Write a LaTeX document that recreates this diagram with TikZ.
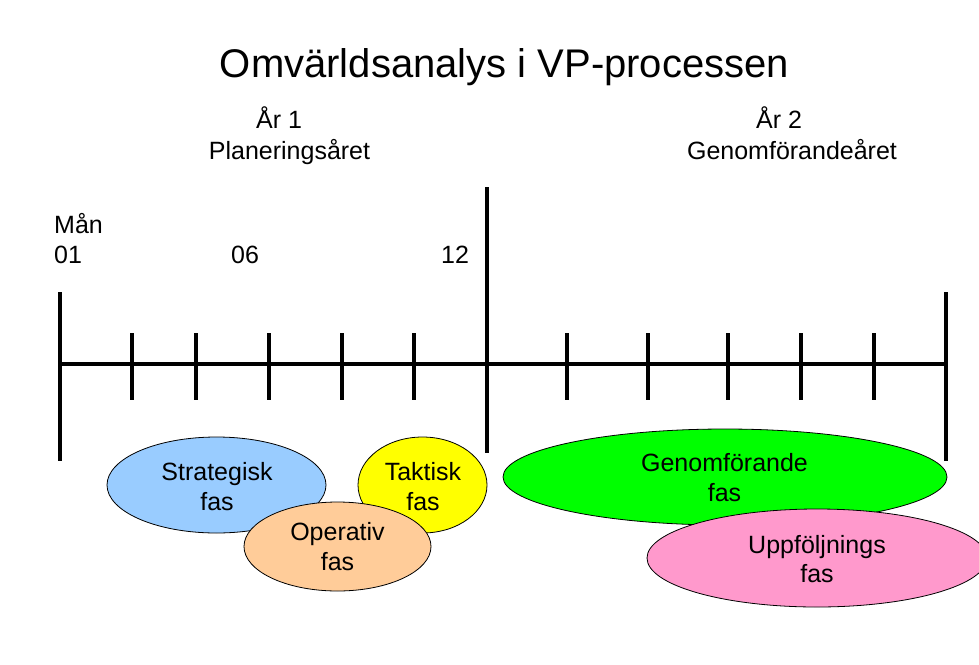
\documentclass[tikz,border=0pt]{standalone}
\usepackage{fontspec}
\setmainfont{Liberation Sans}
\usetikzlibrary{shapes.geometric}
\definecolor{cblue}{HTML}{99CCFF}
\definecolor{cyellow}{HTML}{FFFF00}
\definecolor{corange}{HTML}{FFCC99}
\definecolor{cgreen}{HTML}{00FF00}
\definecolor{cpink}{HTML}{FF99CC}
\begin{document}
\begin{tikzpicture}[x=1pt,y=-1pt,
  axisline/.style={line width=3.2pt},
  phase/.style={ellipse, draw=black, line width=0.8pt, inner sep=0pt},
  lbl/.style={font=\fontsize{25}{30}\selectfont, anchor=base, inner sep=0pt},
  ttl/.style={font=\fontsize{40}{48}\selectfont, anchor=base, inner sep=0pt}]
\useasboundingbox (0,0) rectangle (979,664);
\clip (0,0) rectangle (979,664);
% title and headings
\node[ttl] (title) at (504.5,77) {Omvärldsanalys i VP-processen};
\node[lbl] (ar1) at (279,128) {År 1};
\node[lbl] (plan) at (289.5,159) {Planeringsåret};
\node[lbl] (ar2) at (779,128) {År 2};
\node[lbl] (genar) at (792,159) {Genomförandeåret};
\node[lbl, anchor=base west] (man) at (54,233) {Mån};
\node[lbl, anchor=base west] (m01) at (54,263) {01};
\node[lbl] (m06) at (245,263) {06};
\node[lbl] (m12) at (455,263) {12};
% timeline
\draw[axisline] (60,364) -- (946,364);
\draw[axisline] (60,292) -- (60,461);
\draw[axisline] (487,187) -- (487,453);
\draw[axisline] (946,292) -- (946,461);
\foreach \x in {132,196,269,342,414,567,648,728,801,874}
  \draw[axisline] (\x,333) -- (\x,400);
% phases, left group
\node[phase, fill=cblue, minimum width=219pt, minimum height=96pt] (strat) at (216.5,485) {};
\node[phase, fill=cyellow, minimum width=129pt, minimum height=96pt] (takt) at (422.5,485) {};
\node[phase, fill=corange, minimum width=187pt, minimum height=89pt] (oper) at (337.5,546.5) {};
\node[lbl] (stratA) at (217,480) {Strategisk};
\node[lbl] (stratB) at (217,510.7) {fas};
\node[lbl] (taktA) at (423,480) {Taktisk};
\node[lbl] (taktB) at (423,510.7) {fas};
\node[lbl] (operA) at (337.5,540) {Operativ};
\node[lbl] (operB) at (337.5,570) {fas};
% phases, right group
\node[phase, fill=cgreen, minimum width=444pt, minimum height=96pt] (genom) at (725,477) {};
\node[phase, fill=cpink, minimum width=340pt, minimum height=98pt] (uppf) at (817,558) {};
\node[lbl] (genomA) at (724.5,471.7) {Genomförande};
\node[lbl] (genomB) at (724.5,501.7) {fas};
\node[lbl] (uppfA) at (817,553) {Uppföljnings};
\node[lbl] (uppfB) at (817,582.7) {fas};
\end{tikzpicture}
\end{document}
